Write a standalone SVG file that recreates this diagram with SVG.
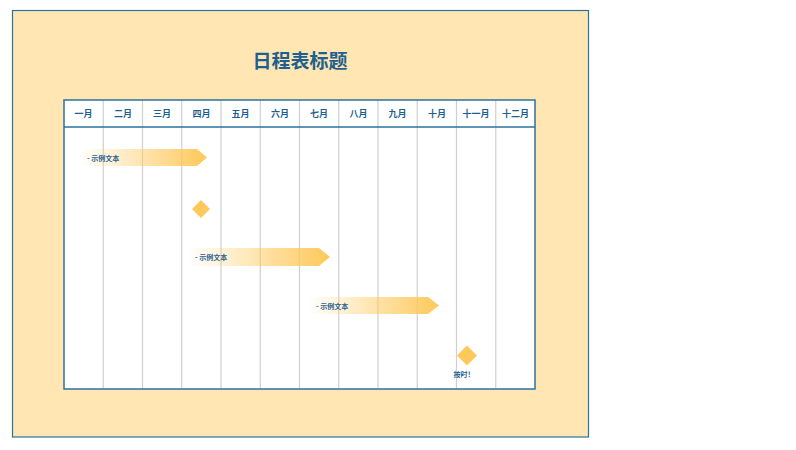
<svg xmlns="http://www.w3.org/2000/svg" width="796" height="450" viewBox="0 0 796 450">
<style>
.hdr{font-family:"Noto Sans CJK SC","Liberation Sans",sans-serif;font-size:9px;font-weight:bold;fill:#1F5F8F;text-anchor:middle}
.lbl{font-family:"Noto Sans CJK SC","Liberation Sans",sans-serif;font-size:7px;font-weight:bold;fill:#1F5F8F}
.title{font-family:"Noto Sans CJK SC","Liberation Sans",sans-serif;font-size:19px;font-weight:bold;fill:#1F5F8F;text-anchor:middle}
.grid{stroke:#CFCFCF;stroke-width:1.2}
.bar{fill:url(#g)}
.dia{fill:#FFC85A}
</style>
<defs>
<linearGradient id="g" x1="0" y1="0" x2="1" y2="0">
<stop offset="0" stop-color="#FFC85A" stop-opacity="0"/>
<stop offset="1" stop-color="#FFC85A"/>
</linearGradient>
</defs>
<rect x="12.5" y="10.5" width="576" height="426.5" fill="#FFE6B3" stroke="#2A73A0" stroke-width="1.2"/>
<text class="title" x="300" y="68">日程表标题</text>
<g id="table">
<rect x="64" y="100" width="471" height="289" fill="#FFFFFF"/>
<g id="connectors">
<line class="grid" x1="103.25" y1="100" x2="103.25" y2="389"/>
<line class="grid" x1="142.5" y1="100" x2="142.5" y2="389"/>
<line class="grid" x1="181.75" y1="100" x2="181.75" y2="389"/>
<line class="grid" x1="221" y1="100" x2="221" y2="389"/>
<line class="grid" x1="260.25" y1="100" x2="260.25" y2="389"/>
<line class="grid" x1="299.5" y1="100" x2="299.5" y2="389"/>
<line class="grid" x1="338.75" y1="100" x2="338.75" y2="389"/>
<line class="grid" x1="378" y1="100" x2="378" y2="389"/>
<line class="grid" x1="417.25" y1="100" x2="417.25" y2="389"/>
<line class="grid" x1="456.5" y1="100" x2="456.5" y2="389"/>
<line class="grid" x1="495.75" y1="100" x2="495.75" y2="389"/>
</g>
<line x1="64" y1="127" x2="535" y2="127" stroke="#2A73A0" stroke-width="1.5"/>
<rect x="64" y="100" width="471" height="289" fill="none" stroke="#2A73A0" stroke-width="1.5"/>
<text class="hdr" x="83.6" y="117">一月</text>
<text class="hdr" x="122.9" y="117">二月</text>
<text class="hdr" x="162.1" y="117">三月</text>
<text class="hdr" x="201.4" y="117">四月</text>
<text class="hdr" x="240.6" y="117">五月</text>
<text class="hdr" x="279.9" y="117">六月</text>
<text class="hdr" x="319.1" y="117">七月</text>
<text class="hdr" x="358.4" y="117">八月</text>
<text class="hdr" x="397.6" y="117">九月</text>
<text class="hdr" x="436.9" y="117">十月</text>
<text class="hdr" x="476.1" y="117">十一月</text>
<text class="hdr" x="515.4" y="117">十二月</text>
</g>
<g id="task1">
<polygon class="bar" points="80,149 197,149 207,157.5 197,166 80,166"/>
<text class="lbl" x="87" y="160.5">- 示例文本</text>
</g>
<g id="milestone1">
<polygon class="dia" points="201,200 210,209 201,218 192,209"/>
</g>
<g id="task2">
<polygon class="bar" points="188,248 319,248 330,257 319,266 188,266"/>
<text class="lbl" x="195" y="260">- 示例文本</text>
</g>
<g id="task3">
<polygon class="bar" points="309,297 428,297 439,305.5 428,314 309,314"/>
<text class="lbl" x="316" y="309">- 示例文本</text>
</g>
<g id="milestone2">
<polygon class="dia" points="467,345.5 477,355.5 467,365.5 457,355.5"/>
<text class="lbl" x="464" y="377" text-anchor="middle">按时！</text>
</g>
</svg>
